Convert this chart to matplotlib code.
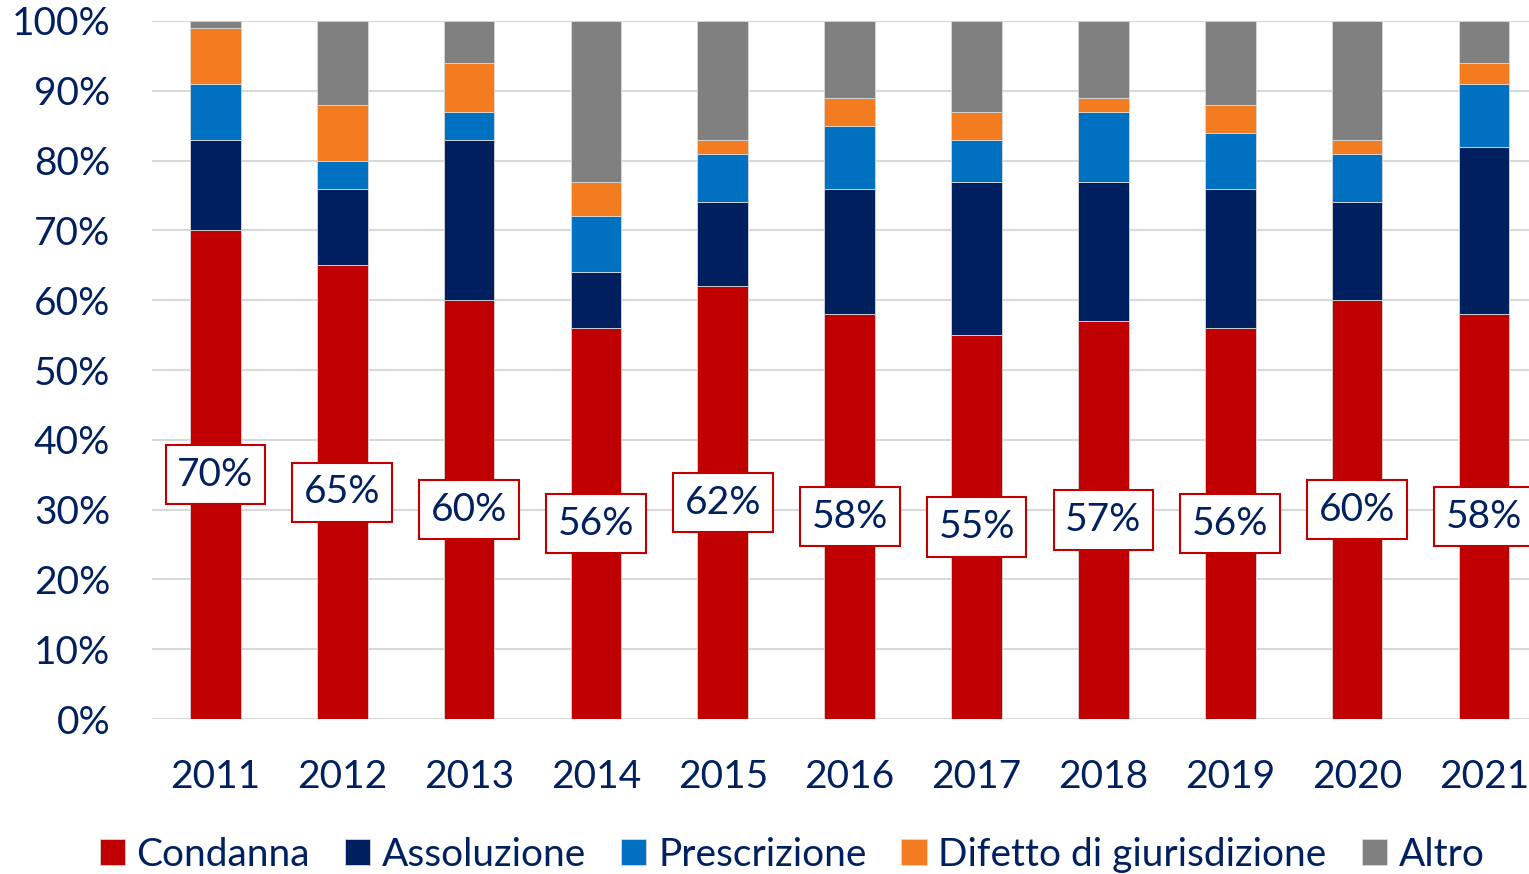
import numpy as np
import matplotlib
matplotlib.use("Agg")
import matplotlib.pyplot as plt

plt.rcParams['font.family'] = ['Lato', 'DejaVu Sans']

years = ["2011", "2012", "2013", "2014", "2015", "2016", "2017", "2018",
         "2019", "2020", "2021"]
condanna = [70, 65, 60, 56, 62, 58, 55, 57, 56, 60, 58]
assoluzione = [13, 11, 23, 8, 12, 18, 22, 20, 20, 14, 24]
prescrizione = [8, 4, 4, 8, 7, 9, 6, 10, 8, 7, 9]
difetto = [8, 8, 7, 5, 2, 4, 4, 2, 4, 2, 3]
altro = [1, 12, 6, 23, 17, 11, 13, 11, 12, 17, 6]

series = [("Condanna", condanna, "#C00000"),
          ("Assoluzione", assoluzione, "#001F5F"),
          ("Prescrizione", prescrizione, "#0070C0"),
          ("Difetto di giurisdizione", difetto, "#F47C20"),
          ("Altro", altro, "#808080")]

text_col = "#002060"

fig = plt.figure(figsize=(15.29, 8.74), dpi=100)
ax = fig.add_axes([0.0994, 0.1773, 0.9006, 0.7987])

x = np.arange(len(years))
bottom = np.zeros(len(years))
for name, vals, col in series:
    ax.bar(x, vals, 0.4, bottom=bottom, color=col, label=name,
           edgecolor="#D9D9D9", linewidth=0.6, zorder=3)
    bottom += np.array(vals)

# labels in the middle of the red segment
for i, v in enumerate(condanna):
    ax.text(x[i], v / 2, f"{v}%", ha="center", va="center", fontsize=28,
            color=text_col, zorder=5,
            bbox=dict(boxstyle="square,pad=0.3", fc="white", ec="#C00000",
                      lw=1.5))

ax.set_xlim(-0.5, 10.355)
ax.set_ylim(0, 100)
ax.set_yticks(np.arange(0, 101, 10))
ax.set_yticklabels([f"{v}%" for v in range(0, 101, 10)])
ax.set_xticks(x)
ax.set_xticklabels(years)
ax.tick_params(axis="both", length=0, labelsize=28, labelcolor=text_col)
ax.tick_params(axis="x", pad=29)
ax.tick_params(axis="y", pad=30)
ax.yaxis.grid(True, color="#D9D9D9", lw=1.5, zorder=0)
for s in ax.spines.values():
    s.set_visible(False)
ax.axhline(0, color="#D9D9D9", lw=1.5, zorder=1)

leg = fig.legend(loc="center", bbox_to_anchor=(0.518, 0.022), ncol=5,
                 frameon=False, fontsize=28, handlelength=0.65,
                 handleheight=0.65, handletextpad=0.3, columnspacing=0.9)
for t in leg.get_texts():
    t.set_color(text_col)

fig.savefig("out.png", dpi=100)
